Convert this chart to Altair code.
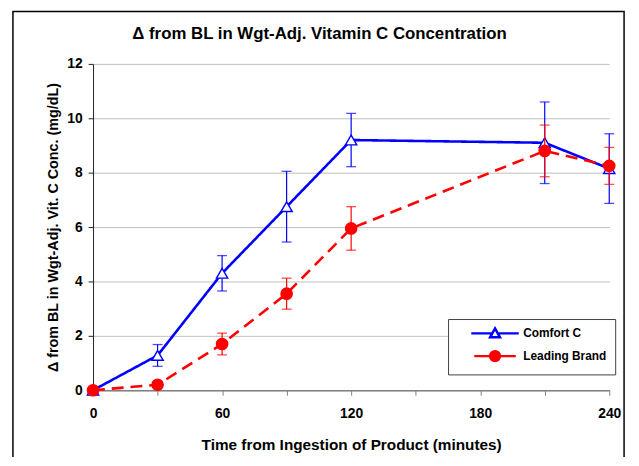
import altair as alt
import pandas as pd

# ---- data ----
time = [0, 30, 60, 90, 120, 210, 240]
comfort = [0.0, 1.28, 4.3, 6.75, 9.2, 9.1, 8.15]
comfort_err = [0.0, 0.4, 0.65, 1.3, 0.98, 1.5, 1.28]
leading = [0.0, 0.2, 1.7, 3.55, 5.95, 8.8, 8.25]
leading_err = [0.0, 0.0, 0.4, 0.57, 0.8, 0.95, 0.68]
series_names = ["Comfort C", "Leading Brand"]
x_ticks = [0, 30, 60, 90, 120, 150, 180, 210, 240]
y_ticks = [0, 2, 4, 6, 8, 10, 12]

FONT = "Liberation Sans, Arial, sans-serif"
BLUE = "#0000FF"
RED = "#FF0000"

rows = []
for name, vals, errs in [(series_names[0], comfort, comfort_err), (series_names[1], leading, leading_err)]:
    for t, v, e in zip(time, vals, errs):
        rows.append({"series": name, "t": t, "v": v, "lo": v - e, "hi": v + e, "err": e})
df = pd.DataFrame(rows)

x_axis = alt.Axis(
    values=x_ticks,
    labelExpr="datum.value % 60 === 0 ? datum.label : ''",
    title="Time from Ingestion of Product (minutes)",
    grid=False,
    domainColor="#808080",
    domainWidth=1.5,
    tickColor="#808080",
    tickSize=5,
    labelPadding=12,
    titlePadding=17,
    labelFlush=False,
)
y_axis = alt.Axis(
    values=y_ticks,
    title="Δ from BL in Wgt-Adj. Vit. C Conc. (mg/dL)",
    grid=True,
    gridColor="#BFBFBF",
    domainColor="#202020",
    tickColor="#202020",
    tickSize=5,
    labelPadding=6,
    titlePadding=6,
)
x_scale = alt.Scale(domain=[0, 240], nice=False, zero=False)
y_scale = alt.Scale(domain=[0, 12], nice=False)


def X(field="t"):
    return alt.X(f"{field}:Q", scale=x_scale, axis=x_axis)


def Y(field):
    return alt.Y(f"{field}:Q", scale=y_scale, axis=y_axis)


base = alt.Chart(df)


def series_layers(name, color, dash, shape, fill):
    b = base.transform_filter(alt.datum.series == name)
    line = b.mark_line(color=color, strokeWidth=2.6, strokeDash=dash).encode(x=X(), y=Y("v"))
    eb = b.transform_filter(alt.datum.err > 0)
    rule = eb.mark_rule(color=color, strokeWidth=1.2).encode(x=X(), y=Y("lo"), y2="hi:Q")
    cap_lo = eb.mark_tick(color=color, orient="horizontal", size=10, thickness=1.3).encode(x=X(), y=Y("lo"))
    cap_hi = eb.mark_tick(color=color, orient="horizontal", size=10, thickness=1.3).encode(x=X(), y=Y("hi"))
    pts = b.mark_point(shape=shape, filled=True, fill=fill, stroke=color, strokeWidth=1.4,
                       size=130, opacity=1).encode(x=X(), y=Y("v"))
    return [line, rule, cap_lo, cap_hi, pts]


blue_layers = series_layers(series_names[0], BLUE, [1, 0], "triangle-up", "white")
red_layers = series_layers(series_names[1], RED, [12, 7], "circle", RED)

# legend-only layer (invisible marks; symbols = line + marker paths)
legend_paths = [
    "M-4.8,0H-0.55M0.55,0H4.8M0,-1L1,0.8L-1,0.8Z",
    "M-4.2,0H4.2M1,0A1,1 0 1,1 -1,0A1,1 0 1,1 1,0Z",
]
legend_layer = base.mark_point(filled=True, opacity=0, size=100).encode(
    x=X(),
    y=Y("v"),
    shape=alt.Shape("series:N", scale=alt.Scale(domain=series_names, range=legend_paths),
                    legend=alt.Legend(title=None)),
    fill=alt.Fill("series:N", scale=alt.Scale(domain=series_names, range=["white", RED]),
                  legend=alt.Legend(title=None)),
    stroke=alt.Stroke("series:N", scale=alt.Scale(domain=series_names, range=[BLUE, RED]),
                      legend=alt.Legend(title=None)),
)

frame = alt.Chart(pd.DataFrame({"k": [0]})).mark_rect(
    fillOpacity=0, stroke="black", strokeWidth=1.5
).encode(x=alt.value(-81), x2=alt.value(537), y=alt.value(-53), y2=alt.value(420))

chart = alt.layer(frame, *blue_layers, *red_layers, legend_layer).properties(
    width=522,
    height=330,
    autosize=alt.AutoSizeParams(type="none"),
    padding={"left": 86, "top": 54, "right": 22, "bottom": 65},
    background="white",
    title=alt.TitleParams(
        "Δ from BL in Wgt-Adj. Vitamin C Concentration",
        font=FONT, fontSize=17, fontWeight="bold", color="black",
        anchor="middle", frame="group", offset=0, dx=-32, dy=33,
    ),
).configure_view(stroke=None).configure_axis(
    labelFont=FONT, labelFontSize=14, labelFontWeight="bold", labelColor="black",
    titleFont=FONT, titleFontSize=14.5, titleFontWeight="bold", titleColor="black",
).configure_axisX(titleFontSize=15.5).configure_legend(
    orient="none", legendX=359, legendY=258,
    strokeColor="#404040", fillColor="white", padding=8,
    labelFont=FONT, labelFontSize=12, labelFontWeight="bold", labelColor="black",
    labelLimit=300, symbolSize=100, symbolStrokeWidth=2.5, symbolOpacity=1,
    symbolOffset=33, labelOffset=22, rowPadding=3,
)

chart.save("out.html", embed_options={"renderer": "svg", "actions": False})
